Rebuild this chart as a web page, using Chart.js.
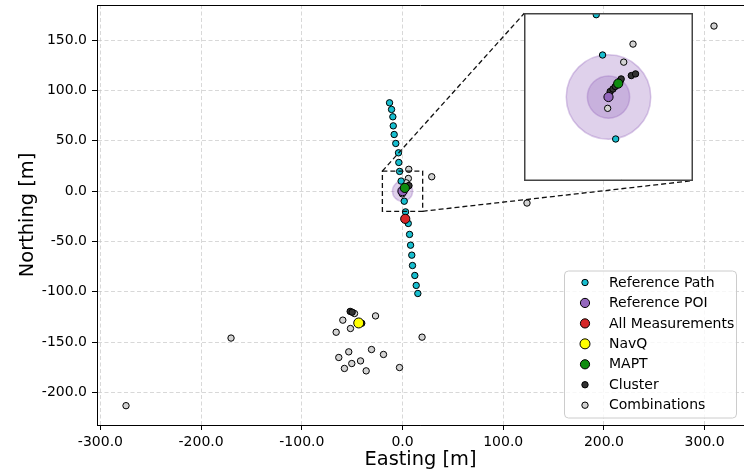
<!DOCTYPE html>
<html>
<head>
<meta charset="utf-8">
<script src="https://cdn.jsdelivr.net/npm/chart.js@4.4.1/dist/chart.umd.min.js"></script>
<style>
  html, body { margin: 0; padding: 0; background: #fff; }
  #wrap { position: relative; width: 744px; height: 472px; overflow: hidden; }
  #main { position: absolute; left: 0; top: 0; }
  #inset { position: absolute; left: 524px; top: 13px; }
</style>
</head>
<body>
<div id="wrap">
  <canvas id="main" width="744" height="472"></canvas>
  <canvas id="inset" width="169" height="168"></canvas>
</div>
<script>
/* ---- data (metres, local ENU) ---- */
const xTicks = [-300, -200, -100, 0, 100, 200, 300];
const yTicks = [-200, -150, -100, -50, 0, 50, 100, 150];
const xRange = [-303.4, 339.1];
const yRange = [-232.4, 185];

const refPathX = [-12.9, -10.9, -9.6, -9.2, -8.3, -6.7, -4.0, -3.7, -2.9, -1.4, 1.7, 3.0, 5.7, 7.0, 8.0, 9.2, 9.9, 12.2, 13.6, 15.2];
const refPathY = [87.8, 81.2, 73.9, 64.9, 56.3, 47.4, 38.1, 28.5, 19.6, 10.0, -10.0, -20.6, -32.1, -43.0, -53.7, -63.6, -73.9, -83.8, -93.7, -101.7];

const poiX = [0];
const poiY = [0];
const poiRadii = [10, 5];

const measX = [2.7];
const measY = [-27.5];

const navqX = [-43.5];
const navqY = [-131];

const maptX = [2.3];
const maptY = [3.2];

const clusterX = [0.4, 1.05, 1.6, 2.8, 3.0, 5.4, 6.4, -52, -50, -40.5];
const clusterY = [1.3, 1.9, 2.5, 3.9, 4.3, 5.1, 5.5, -119.5, -120.3, -131.3];

const combX = [309.3, 5.8, 3.6, -0.2, 6.2, 29.0, 123.6, 19.4, -170.3, -274.6,
               -47.7, -26.8, -59.3, -51.7, -65.9, -53.4, -30.8, -18.9, -63.3, -41.7, -50.4, -57.7, -36.1, -3.0];
const combY = [164.1, 12.6, 8.3, -2.7, 21.7, 14.3, -11.8, -145.1, -146.0, -213.2,
               -121.6, -124.0, -128.2, -136.5, -140.2, -159.7, -157.4, -162.3, -165.3, -168.7, -171.3, -176.2, -178.6, -175.3];

const insetHalf = 20;

/* ---- styling ---- */
Chart.defaults.font.family = '"DejaVu Sans", sans-serif';
const GRID_COLOR = 'rgba(190,190,190,0.75)';
const INSET_BOX = { left: 524.3, top: 13.3, right: 692.3, bottom: 180.7 };

const SERIES = [
  { label: 'Reference Path',   xs: refPathX, ys: refPathY, color: '#17becf', r: 3.2, z: 5 },
  { label: 'Reference POI',    xs: poiX,     ys: poiY,     color: '#9467bd', r: 4.6, z: 3 },
  { label: 'All Measurements', xs: measX,    ys: measY,    color: '#d62728', r: 4.6, z: 2 },
  { label: 'NavQ',             xs: navqX,    ys: navqY,    color: '#ffff00', r: 5.0, z: 1 },
  { label: 'MAPT',             xs: maptX,    ys: maptY,    color: '#0e8c0e', r: 4.6, z: 0 },
  { label: 'Cluster',          xs: clusterX, ys: clusterY, color: '#333333', r: 3.2, z: 4 },
  { label: 'Combinations',     xs: combX,    ys: combY,    color: '#d3d3d3', r: 3.2, z: 6 },
];

function makeDatasets() {
  return SERIES.map(s => ({
    label: s.label,
    data: s.xs.map((x, i) => ({ x, y: s.ys[i] })),
    backgroundColor: s.color,
    borderColor: '#000',
    pointRadius: s.r,
    pointHoverRadius: s.r,
    pointBorderWidth: 1,
    order: s.z,
  }));
}

// translucent accuracy rings round the POI
const haloPlugin = {
  id: 'halo',
  beforeDatasetsDraw(chart) {
    const { ctx, scales: { x, y } } = chart;
    const cx = x.getPixelForValue(poiX[0]), cy = y.getPixelForValue(poiY[0]);
    ctx.save();
    poiRadii.forEach(r => {
      const rp = Math.abs(x.getPixelForValue(poiX[0] + r) - cx);
      ctx.beginPath();
      ctx.arc(cx, cy, rp, 0, Math.PI * 2);
      ctx.fillStyle = 'rgba(148,103,189,0.3)';
      ctx.fill();
      ctx.lineWidth = 1.5;
      ctx.strokeStyle = 'rgba(148,103,189,0.35)';
      ctx.stroke();
    });
    ctx.restore();
  }
};

// top spine, zoom rectangle + connectors, legend
const decorPlugin = {
  id: 'decor',
  afterDraw(chart) {
    const { ctx, chartArea: a, scales: { x, y } } = chart;
    ctx.save();
    ctx.strokeStyle = '#000';
    ctx.lineWidth = 1;
    ctx.beginPath();
    ctx.moveTo(a.left, a.top + 0.5);
    ctx.lineTo(a.right, a.top + 0.5);
    ctx.stroke();

    const x0 = x.getPixelForValue(poiX[0] - insetHalf), x1 = x.getPixelForValue(poiX[0] + insetHalf);
    const y0 = y.getPixelForValue(poiY[0] + insetHalf), y1 = y.getPixelForValue(poiY[0] - insetHalf);
    ctx.setLineDash([5, 3]);
    ctx.lineWidth = 1.3;
    ctx.strokeStyle = '#111';
    ctx.strokeRect(x0, y0, x1 - x0, y1 - y0);
    ctx.beginPath();
    ctx.moveTo(x0, y0); ctx.lineTo(INSET_BOX.left, INSET_BOX.top);
    ctx.moveTo(x1, y1); ctx.lineTo(INSET_BOX.right, INSET_BOX.bottom);
    ctx.stroke();
    ctx.setLineDash([]);

    // legend
    const L = { left: 564.5, top: 271, w: 172, h: 147 };
    ctx.beginPath();
    ctx.roundRect(L.left, L.top, L.w, L.h, 4);
    ctx.fillStyle = 'rgba(255,255,255,0.8)';
    ctx.fill();
    ctx.strokeStyle = '#cccccc';
    ctx.lineWidth = 1;
    ctx.stroke();
    ctx.font = '14px "DejaVu Sans"';
    ctx.textBaseline = 'middle';
    ctx.textAlign = 'left';
    SERIES.forEach((s, i) => {
      const ry = 282.5 + i * 20.45;
      ctx.beginPath();
      ctx.arc(585, ry, s.r, 0, Math.PI * 2);
      ctx.fillStyle = s.color;
      ctx.fill();
      ctx.strokeStyle = '#000';
      ctx.stroke();
      ctx.fillStyle = '#000';
      ctx.fillText(s.label, 609, ry + 0.5);
    });
    ctx.restore();
  }
};

new Chart(document.getElementById('main'), {
  type: 'scatter',
  data: { datasets: makeDatasets() },
  plugins: [haloPlugin, decorPlugin],
  options: {
    responsive: false,
    animation: false,
    events: [],
    layout: { autoPadding: false, padding: { top: 5, right: 0, bottom: 0, left: 0 } },
    plugins: { legend: { display: false }, tooltip: { enabled: false } },
    scales: {
      x: {
        type: 'linear', min: xRange[0], max: xRange[1],
        afterBuildTicks: s => { s.ticks = xTicks.map(v => ({ value: v })); },
        afterFit: s => { s.height = 47; s.paddingLeft = 0; s.paddingRight = 0; },
        grid: { color: GRID_COLOR, lineWidth: 0.8, tickColor: '#000', tickLength: 5, tickWidth: 1, tickBorderDash: [] },
        border: { display: true, color: '#000', width: 1, dash: [4, 2.5] },
        ticks: { color: '#000', font: { size: 14 }, padding: 4, autoSkip: false, maxRotation: 0, callback: v => v.toFixed(1) },
        title: { display: true, text: 'Easting [m]', color: '#000', font: { size: 19.4, lineHeight: 1.2 }, padding: { top: 0, bottom: 0 } }
      },
      y: {
        type: 'linear', min: yRange[0], max: yRange[1],
        afterBuildTicks: s => { s.ticks = yTicks.map(v => ({ value: v })); },
        afterFit: s => { s.width = 97; s.paddingTop = 0; s.paddingBottom = 0; },
        grid: { color: GRID_COLOR, lineWidth: 0.8, tickColor: '#000', tickLength: 5, tickWidth: 1, tickBorderDash: [] },
        border: { display: true, color: '#000', width: 1, dash: [4, 2.5] },
        ticks: { color: '#000', font: { size: 14 }, padding: 5, autoSkip: false, callback: v => v.toFixed(1) },
        title: { display: true, text: 'Northing [m]', color: '#000', font: { size: 19.4, lineHeight: 1.2 }, padding: { top: 16, bottom: 0 } }
      }
    }
  }
});

/* ---- zoomed inset round the POI ---- */
const insetFrame = {
  id: 'insetFrame',
  beforeDraw(chart) {
    const { ctx, width, height } = chart;
    ctx.save();
    ctx.fillStyle = '#fff';
    ctx.fillRect(0, 0, width, height);
    ctx.restore();
  },
  afterDraw(chart) {
    const { ctx, width, height } = chart;
    ctx.save();
    ctx.strokeStyle = '#444';
    ctx.lineWidth = 1.5;
    ctx.strokeRect(0.75, 0.75, width - 1.5, height - 1.5);
    ctx.restore();
  }
};

new Chart(document.getElementById('inset'), {
  type: 'scatter',
  data: { datasets: makeDatasets() },
  plugins: [insetFrame, haloPlugin],
  options: {
    responsive: false,
    animation: false,
    events: [],
    layout: { autoPadding: false, padding: 0 },
    plugins: { legend: { display: false }, tooltip: { enabled: false } },
    scales: {
      x: { type: 'linear', display: false, min: poiX[0] - insetHalf, max: poiX[0] + insetHalf },
      y: { type: 'linear', display: false, min: poiY[0] - insetHalf, max: poiY[0] + insetHalf }
    }
  }
});
</script>
</body>
</html>
